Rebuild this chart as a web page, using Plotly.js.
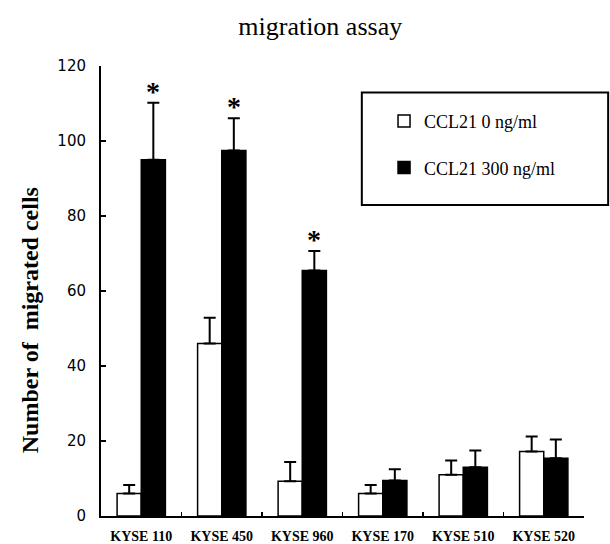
<!DOCTYPE html>
<html>
<head>
<meta charset="utf-8">
<script src="https://cdn.plot.ly/plotly-3.0.1.min.js"></script>
<style>html,body{margin:0;padding:0;background:#fff;}#chart{width:610px;height:544px;}</style>
</head>
<body>
<div id="chart"></div>
<script>
const categories = ["KYSE 110", "KYSE 450", "KYSE 960", "KYSE 170", "KYSE 510", "KYSE 520"];
const control = [6, 46, 9.3, 6, 11, 17.2];
const controlErr = [2.3, 6.9, 5.1, 2.3, 3.8, 4.0];
const treated = [95, 97.5, 65.5, 9.5, 13, 15.4];
const treatedErr = [15.2, 8.6, 5.2, 3.0, 4.5, 5.0];
const significant = [true, true, true, false, false, false];
const seriesNames = ["CCL21 0 ng/ml", "CCL21 300 ng/ml"];
const yTitle = "Number of  migrated cells";

const errStyle = {color: "#000", thickness: 2, width: 6};
const traces = [
  {
    type: "bar", name: seriesNames[0], x: categories, y: control,
    marker: {color: "#fff", line: {color: "#000", width: 1.5}},
    error_y: Object.assign({type: "data", symmetric: false, array: controlErr, arrayminus: control.map(() => 0)}, errStyle),
    legendgroup: "a"
  },
  {
    type: "bar", name: seriesNames[1], x: categories, y: treated,
    marker: {color: "#000", line: {color: "#000", width: 1.5}},
    error_y: Object.assign({type: "data", symmetric: false, array: treatedErr, arrayminus: treated.map(() => 0)}, errStyle),
    legendgroup: "b"
  }
];

const annotations = [];
categories.forEach((c, i) => {
  if (significant[i]) {
    annotations.push({
      x: c, y: treated[i] + treatedErr[i], xref: "x", yref: "y",
      text: "<b>*</b>", showarrow: false, xshift: 12, yanchor: "bottom", yshift: -6,
      font: {family: "Liberation Serif, Times New Roman, serif", size: 28, color: "#000"}
    });
  }
});
annotations.push({
  text: "<b>" + yTitle + "</b>", xref: "paper", yref: "paper",
  x: -0.147, y: 0.435, xanchor: "center", yanchor: "middle", textangle: -90,
  showarrow: false,
  font: {family: "Liberation Serif, Times New Roman, serif", size: 24, color: "#000"}
});

const layout = {
  width: 610, height: 544,
  margin: {l: 101, r: 26, t: 66, b: 28},
  paper_bgcolor: "#fff", plot_bgcolor: "#fff",
  barmode: "group", bargap: 0.4, bargroupgap: 0,
  title: {text: "migration assay", x: 0.525, xanchor: "center", y: 0.952, yanchor: "middle",
    font: {family: "Liberation Serif, Times New Roman, serif", size: 26, color: "#000"}},
  xaxis: {
    type: "category", showline: true, linecolor: "#000", linewidth: 2,
    ticks: "inside", ticklen: 4, tickwidth: 1.5, tickcolor: "#000", tickson: "boundaries",
    ticklabelstandoff: 6,
    tickfont: {family: "Liberation Serif, Times New Roman, serif", size: 14, color: "#000", weight: 600},
    showgrid: false, zeroline: false, fixedrange: true
  },
  yaxis: {
    range: [0, 120], dtick: 20, showline: true, linecolor: "#000", linewidth: 2,
    ticks: "inside", ticklen: 5, tickwidth: 1.5, tickcolor: "#000",
    ticklabelstandoff: 10,
    tickfont: {family: "DejaVu Sans, Verdana, sans-serif", size: 15, color: "#000"},
    showgrid: false, zeroline: false
  },
  showlegend: true,
  legend: {
    x: 0.586, y: 0.918, xanchor: "left", yanchor: "top",
    traceorder: "grouped", tracegroupgap: 20,
    bgcolor: "rgba(0,0,0,0)", borderwidth: 0,
    font: {family: "Liberation Serif, Times New Roman, serif", size: 18, color: "#000"},
    itemwidth: 30
  },
  shapes: [{
    type: "rect", xref: "paper", yref: "paper",
    x0: 0.540, x1: 1.05, y0: 0.691, y1: 0.941,
    line: {color: "#000", width: 2}, fillcolor: "rgba(0,0,0,0)"
  }],
  annotations: annotations
};

Plotly.newPlot("chart", traces, layout, {displayModeBar: false, staticPlot: true});
</script>
</body>
</html>
